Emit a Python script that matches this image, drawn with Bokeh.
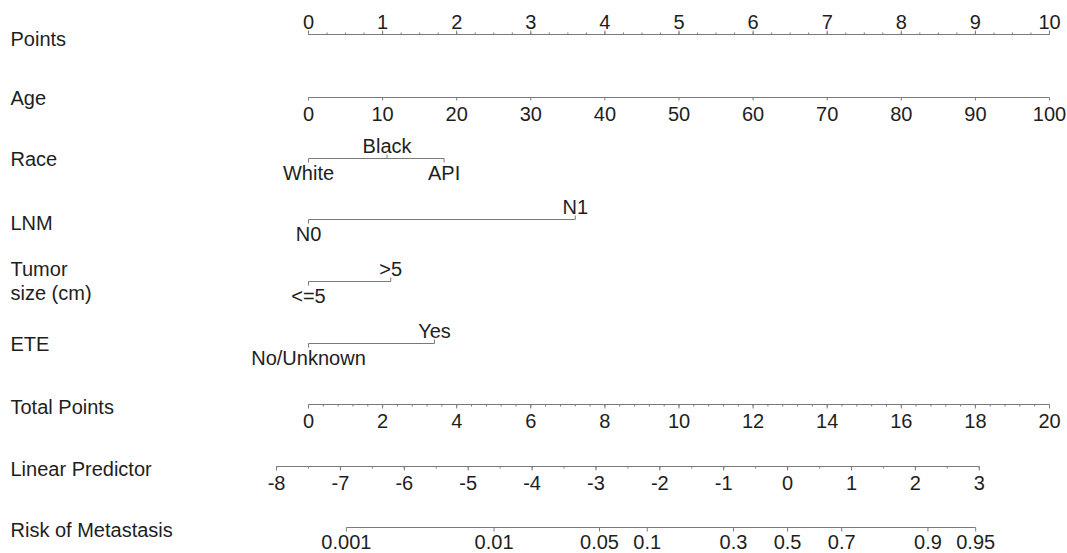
import numpy as np
from bokeh.plotting import figure
from bokeh.models import Range1d
from bokeh.embed import file_html
from bokeh.resources import INLINE
from bokeh.core.properties import value

# ---------------- data ----------------
row_names = ["Points", "Age", "Race", "LNM", "Tumor", "ETE",
             "Total Points", "Linear Predictor", "Risk of Metastasis"]
points_ticks = list(range(0, 11))
points_minor = [i * 0.25 for i in range(41)]
age_ticks = list(range(0, 101, 10))
age_points_per_year = 0.1

race_levels = ["White", "Black", "API"]
race_points = [0.0, 1.06, 1.83]
race_side = ["below", "above", "below"]

lnm_levels = ["N0", "N1"]
lnm_points = [0.0, 3.60]
lnm_side = ["below", "above"]

tumor_levels = ["<=5", ">5"]
tumor_points = [0.0, 1.11]
tumor_side = ["below", "above"]

ete_levels = ["No/Unknown", "Yes"]
ete_points = [0.0, 1.70]
ete_side = ["below", "above"]

total_ticks = list(range(0, 21, 2))
total_minor = [i * 0.4 for i in range(51)]
lp_ticks = list(range(-8, 4))
lp_minor = [i * 0.5 - 8 for i in range(23)]
risk_ticks = [0.001, 0.01, 0.05, 0.1, 0.3, 0.5, 0.7, 0.9, 0.95]
risk_labels = ["0.001", "0.01", "0.05", "0.1", "0.3", "0.5", "0.7", "0.9", "0.95"]

lp_at_zero_total = -7.5    # linear predictor at 0 total points
lp_per_total_point = 0.58  # linear predictor per total point

# ---------------- layout ----------------
W, H = 1067, 553
px_per_pt = 74.1
x0 = 308.0
row_y = [34, 97, 158, 219, 281, 343, 404, 466, 527]

FONT = value("Liberation Sans")
FS = "20px"
LINE_C = "#7a7a7a"
TEXT_C = "#1e1e1e"

p = figure(width=W, height=H, output_backend="svg", toolbar_location=None,
           x_range=Range1d(-x0 / px_per_pt, (W - x0) / px_per_pt),
           y_range=Range1d(H, 0), min_border=0)
p.axis.visible = False
p.grid.visible = False
p.outline_line_color = None
p.background_fill_color = "white"
p.border_fill_color = "white"


def total_to_x(tp):
    return np.asarray(tp, dtype=float) / 2.0


def lp_to_x(lp):
    tp = (np.asarray(lp, dtype=float) - lp_at_zero_total) / lp_per_total_point
    return total_to_x(tp)


def logit(r):
    r = np.asarray(r, dtype=float)
    return np.log(r / (1 - r))


def txt(xs, ys, labels, align="center"):
    p.text(x=list(xs), y=list(ys), text=list(labels), text_align=align,
           text_baseline="middle", text_font=FONT, text_font_size=FS,
           text_color=TEXT_C)


def draw_axis(xs, labels, y, side, minor_xs=None, tick_len=4, minor_len=2, off=16):
    xs = np.asarray(xs, dtype=float)
    allx = list(xs) + (list(minor_xs) if minor_xs is not None else [])
    p.segment(x0=[min(allx)], y0=[y], x1=[max(allx)], y1=[y],
              line_color=LINE_C, line_width=1)
    sgn = -1 if side == "above" else 1
    p.segment(x0=xs, y0=[y] * len(xs), x1=xs, y1=[y + sgn * tick_len] * len(xs),
              line_color=LINE_C, line_width=1)
    if minor_xs is not None:
        mx = np.asarray(minor_xs, dtype=float)
        p.segment(x0=mx, y0=[y] * len(mx), x1=mx, y1=[y + sgn * minor_len] * len(mx),
                  line_color=LINE_C, line_width=1)
    ty = y - 13 if side == "above" else y + off
    txt(xs, [ty] * len(xs), labels)


def draw_cat(pts, levels, sides, y):
    pts = np.asarray(pts, dtype=float)
    p.segment(x0=[pts.min()], y0=[y], x1=[pts.max()], y1=[y],
              line_color=LINE_C, line_width=1)
    for xv, lab, sd in zip(pts, levels, sides):
        sgn = -1 if sd == "above" else 1
        p.segment(x0=[xv], y0=[y], x1=[xv], y1=[y + sgn * 4],
                  line_color=LINE_C, line_width=1)
        ty = y - 12.5 if sd == "above" else y + 14.5
        txt([xv], [ty], [lab])


# Points
draw_axis(points_ticks, [str(v) for v in points_ticks], row_y[0], "above",
          minor_xs=points_minor)
# Age
draw_axis(np.array(age_ticks) * age_points_per_year, [str(v) for v in age_ticks],
          row_y[1], "below", tick_len=3)
# categorical
draw_cat(race_points, race_levels, race_side, row_y[2])
draw_cat(lnm_points, lnm_levels, lnm_side, row_y[3])
draw_cat(tumor_points, tumor_levels, tumor_side, row_y[4])
draw_cat(ete_points, ete_levels, ete_side, row_y[5])
# Total points
draw_axis(total_to_x(total_ticks), [str(v) for v in total_ticks], row_y[6], "below",
          minor_xs=total_to_x(total_minor))
# Linear predictor
draw_axis(lp_to_x(lp_ticks), [str(v) for v in lp_ticks], row_y[7], "below",
          minor_xs=lp_to_x(lp_minor))
# Risk
draw_axis(lp_to_x(logit(risk_ticks)), risk_labels, row_y[8], "below", off=14)

# Row names at left
left_x = 10 / px_per_pt - x0 / px_per_pt
name_dy = [4, 0, 0, 3, None, 0, 2, 2, 2]
names, ys = [], []
for n, dy, ry in zip(row_names, name_dy, row_y):
    if n == "Tumor":
        names += ["Tumor", "size (cm)"]
        ys += [ry - 13, ry + 11]
    else:
        names.append(n)
        ys.append(ry + dy)
txt([left_x] * len(names), ys, names, align="left")

open("out.html", "w").write(file_html(p, INLINE))
